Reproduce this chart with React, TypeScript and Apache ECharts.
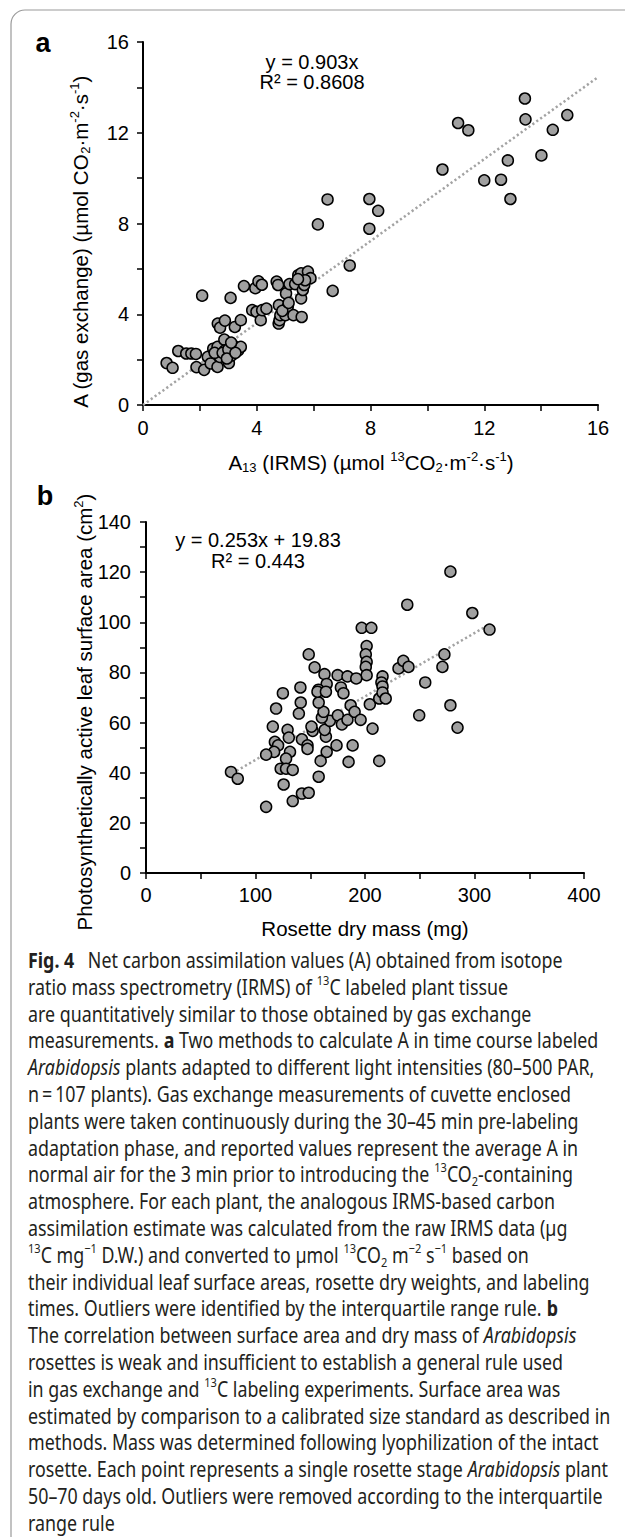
import React, { useEffect, useRef } from "react";
import * as echarts from "echarts";

// ---------- DATA ----------
// Panel a: A13 (IRMS) vs A (gas exchange)
const panelA: number[][] = [
  [0.83, 1.85], [1.04, 1.64], [1.24, 2.38], [1.52, 2.27], [1.7, 2.27], [1.86, 2.25],
  [1.88, 1.67], [2.15, 1.55], [2.08, 4.82], [2.28, 2.12], [2.38, 1.83], [2.47, 2.48],
  [2.62, 1.68], [2.62, 2.56], [2.7, 2.12], [2.86, 2.88], [2.88, 2.41], [3.02, 1.85],
  [3.12, 2.19], [3.17, 2.63], [3.35, 2.41], [3.44, 2.56], [2.63, 3.59], [2.71, 3.41],
  [2.88, 3.72], [3.08, 4.72], [3.23, 3.44], [3.44, 3.74], [3.55, 5.24], [3.84, 4.18],
  [3.95, 5.15], [4.06, 5.45], [4.18, 5.3], [3.99, 4.11], [4.14, 3.74], [4.19, 4.18],
  [4.34, 4.25], [4.7, 5.44], [4.75, 5.29], [4.78, 4.4], [4.77, 3.59], [4.8, 3.74],
  [4.83, 3.96], [5.01, 3.96], [5.03, 4.92], [5.09, 4.33], [5.15, 5.33], [5.29, 3.96],
  [5.35, 5.33], [5.46, 5.72], [5.56, 5.8], [5.58, 3.88], [5.56, 4.7], [5.62, 5.07],
  [5.67, 5.29], [5.8, 5.88], [5.89, 5.59], [6.67, 5.03], [7.27, 6.15], [6.15, 7.96],
  [7.96, 7.77], [6.49, 9.06], [7.96, 9.08], [8.27, 8.56], [10.53, 10.38], [11.08, 12.43],
  [11.44, 12.11], [12.0, 9.9], [12.59, 9.93], [12.83, 10.78], [12.92, 9.08], [13.43, 13.51],
  [13.45, 12.59], [14.01, 11.0], [14.41, 12.13], [14.92, 12.78],
  [2.52, 2.3], [2.8, 2.3], [3.0, 2.45], [2.95, 2.05], [3.25, 2.3], [4.9, 4.15],
  [5.12, 4.5], [5.7, 5.5], [5.45, 5.55], [3.1, 2.75],
];
const trendA: number[][] = [[0, 0], [16, 14.45]];
const eqA = ["y = 0.903x", "R² = 0.8608"];

// Panel b: rosette dry mass vs leaf surface area
const panelB: number[][] = [
  [278, 120.2], [238.6, 107.0], [298, 103.7], [313.7, 97.1], [197, 97.8], [205.8, 97.8],
  [201.5, 90.5], [200.7, 87.2], [201.5, 84.2], [200.7, 82.2], [201.5, 78.9], [148.6, 87.2],
  [154, 82.0], [163, 79.3], [175, 78.9], [184, 78.4], [192, 77.6], [165, 75.4],
  [178, 74.0], [141, 74.0], [157.5, 73.1], [216, 78.4], [215, 76.0], [216, 74.4],
  [230.6, 81.6], [235, 84.6], [239.7, 82.2], [255, 76.0], [272.5, 87.2], [270.7, 82.2],
  [125, 71.7], [118.8, 65.6], [141.3, 68.0], [139.6, 63.6], [115.8, 58.4], [117.7, 52.3],
  [120.6, 50.9], [117, 48.3], [109.7, 47.2], [131.5, 48.3], [129.3, 57.1], [130.4, 54.0],
  [127.9, 45.6], [123, 41.6], [127.9, 41.6], [134, 41.1], [125.7, 35.3], [134, 28.7],
  [142.4, 31.7], [148.6, 32.0], [109.7, 26.4], [77.6, 40.3], [83.8, 37.6], [142.4, 53.3],
  [147.5, 50.9], [147.5, 49.5], [152.2, 56.7], [151.1, 58.4], [157.7, 38.4], [159.5, 44.7],
  [165, 48.3], [174, 50.9], [188.7, 50.9], [185, 44.3], [213, 44.7], [164.3, 54.4],
  [163.2, 57.1], [167.9, 60.7], [160.6, 62.0], [162.1, 64.3], [157.7, 68.0], [156.6, 72.3],
  [164.3, 72.3], [180.3, 71.7], [175.2, 62.9], [178.9, 59.3], [184, 61.1], [186.9, 66.9],
  [190.5, 64.3], [196, 61.1], [204.4, 67.3], [206.9, 57.6], [213, 69.6], [216, 72.0],
  [218.9, 69.6], [249.5, 62.9], [278, 66.9], [284.5, 58.0],
];
const trendB: number[][] = [[79, 39.8], [313, 99.0]];
const eqB = ["y = 0.253x + 19.83", "R² = 0.443"];

const captionLines = [
  "{b|Fig. 4}\u2002 Net carbon assimilation values (A) obtained from isotope",
  "ratio mass spectrometry (IRMS) of {sup|13}C labeled plant tissue",
  "are quantitatively similar to those obtained by gas exchange",
  "measurements. {b|a} Two methods to calculate A in time course labeled",
  "{i|Arabidopsis} plants adapted to different light intensities (80–500 PAR,",
  "n\u2009=\u2009107 plants). Gas exchange measurements of cuvette enclosed",
  "plants were taken continuously during the 30–45 min pre-labeling",
  "adaptation phase, and reported values represent the average A in",
  "normal air for the 3 min prior to introducing the {sup|13}CO{sub|2}-containing",
  "atmosphere. For each plant, the analogous IRMS-based carbon",
  "assimilation estimate was calculated from the raw IRMS data (µg",
  "{sup|13}C mg{sup|−1} D.W.) and converted to µmol {sup|13}CO{sub|2} m{sup|−2} s{sup|−1} based on",
  "their individual leaf surface areas, rosette dry weights, and labeling",
  "times. Outliers were identified by the interquartile range rule. {b|b}",
  "The correlation between surface area and dry mass of {i|Arabidopsis}",
  "rosettes is weak and insufficient to establish a general rule used",
  "in gas exchange and {sup|13}C labeling experiments. Surface area was",
  "estimated by comparison to a calibrated size standard as described in",
  "methods. Mass was determined following lyophilization of the intact",
  "rosette. Each point represents a single rosette stage {i|Arabidopsis} plant",
  "50–70 days old. Outliers were removed according to the interquartile",
  "range rule",
];

// ---------- STYLE ----------
const ARIAL = '"Liberation Sans", Arial, sans-serif';
const CAP_FONT = '"Noto Sans", "Open Sans", sans-serif';
const CAP_SIZE = 21;
const CAP_REF_LINE = "are quantitatively similar to those obtained by gas exchange";
const CAP_REF_WIDTH = 504;

function axisRich(size: number) {
  const sm = Math.round(size * 0.62);
  return {
    sup: { fontSize: sm, fontFamily: ARIAL, fill: "#000", verticalAlign: "top", lineHeight: 24 },
    sub: { fontSize: sm, fontFamily: ARIAL, fill: "#000", verticalAlign: "bottom", lineHeight: 24 },
  };
}

export default function App() {
  const ref = useRef<HTMLDivElement>(null);

  useEffect(() => {
    if (!ref.current) return;
    const chart = echarts.init(ref.current, undefined, { renderer: "svg" });

    // caption horizontal scale so the text width matches the reference
    let capScale = 0.85;
    try {
      const ctx = document.createElement("canvas").getContext("2d");
      if (ctx) {
        ctx.font = `${CAP_SIZE}px "Noto Sans"`;
        const w = ctx.measureText(CAP_REF_LINE).width;
        if (w > 0) capScale = CAP_REF_WIDTH / w;
      }
    } catch (e) {}

    const axisLine = { show: true, onZero: false, lineStyle: { color: "#000", width: 2 } };
    const axisTick = { show: true, inside: false, length: 6, lineStyle: { color: "#000", width: 1.5 } };
    const lbl = (step: number, margin: number) => ({
      color: "#000",
      fontSize: 20,
      fontFamily: ARIAL,
      margin,
      formatter: (v: number) => (Math.abs(v % step) < 1e-9 ? String(v) : ""),
    });

    const capRich = {
      b: { fontFamily: CAP_FONT, fontSize: CAP_SIZE, fontWeight: "bold", fill: "#231f20", lineHeight: 27 },
      i: { fontFamily: CAP_FONT, fontSize: CAP_SIZE, fontStyle: "italic", fill: "#231f20", lineHeight: 27 },
      sup: { fontFamily: CAP_FONT, fontSize: 13, fill: "#231f20", verticalAlign: "top", lineHeight: 27 },
      sub: { fontFamily: CAP_FONT, fontSize: 13, fill: "#231f20", verticalAlign: "bottom", lineHeight: 27 },
    };

    const captionGraphics = captionLines.map((t, i) => ({
      type: "text",
      x: 28,
      y: 960 + i * 26.8,
      scaleX: capScale,
      silent: true,
      style: {
        text: t,
        fontFamily: CAP_FONT,
        fontSize: CAP_SIZE,
        fill: "#231f20",
        lineHeight: 27,
        align: "left",
        verticalAlign: "middle",
        rich: capRich,
      },
    }));

    const txt = (x: number, y: number, text: string, extra: any = {}) => ({
      type: "text",
      x,
      y,
      silent: true,
      style: {
        text,
        fontFamily: ARIAL,
        fontSize: 20,
        fill: "#000",
        align: "center",
        verticalAlign: "middle",
        ...extra,
      },
    });

    const titleStyle = { fontSize: 20.5, lineHeight: 24, rich: axisRich(20.5) };

    chart.setOption({
      animation: false,
      backgroundColor: "#fff",
      grid: [
        { left: 143, top: 42, width: 455, height: 363, containLabel: false },
        { left: 146, top: 522, width: 438, height: 351, containLabel: false },
      ],
      xAxis: [
        { gridIndex: 0, type: "value", min: 0, max: 16, interval: 2, axisLine, axisTick, splitLine: { show: false }, axisLabel: lbl(4, 13) },
        { gridIndex: 1, type: "value", min: 0, max: 400, interval: 50, axisLine, axisTick, splitLine: { show: false }, axisLabel: lbl(100, 12) },
      ],
      yAxis: [
        { gridIndex: 0, type: "value", min: 0, max: 16, interval: 2, axisLine, axisTick, splitLine: { show: false }, axisLabel: lbl(4, 14) },
        { gridIndex: 1, type: "value", min: 0, max: 140, interval: 10, axisLine, axisTick, splitLine: { show: false }, axisLabel: lbl(20, 15) },
      ],
      series: [
        {
          type: "line", xAxisIndex: 0, yAxisIndex: 0, data: trendA, symbol: "none", silent: true, z: 1,
          lineStyle: { color: "#a3a3a3", width: 2.5, type: [2.2, 2.6] },
        },
        {
          type: "scatter", xAxisIndex: 0, yAxisIndex: 0, data: panelA, symbolSize: 11, z: 2, clip: false,
          itemStyle: { color: "#a0a0a0", borderColor: "#000", borderWidth: 1.5, opacity: 1 },
        },
        {
          type: "line", xAxisIndex: 1, yAxisIndex: 1, data: trendB, symbol: "none", silent: true, z: 1,
          lineStyle: { color: "#a3a3a3", width: 2.5, type: [2.2, 2.6] },
        },
        {
          type: "scatter", xAxisIndex: 1, yAxisIndex: 1, data: panelB, symbolSize: 11, z: 2, clip: false,
          itemStyle: { color: "#a0a0a0", borderColor: "#000", borderWidth: 1.5, opacity: 1 },
        },
      ],
      graphic: [
        {
          type: "rect", silent: true, z: -1,
          shape: { x: 11, y: 10, width: 900, height: 1800, r: 14 },
          style: { fill: "none", stroke: "#9a9a9a", lineWidth: 1.2 },
        },
        txt(43, 43, "a", { fontSize: 27, fontWeight: "bold" }),
        txt(45, 496, "b", { fontSize: 27, fontWeight: "bold" }),
        txt(312, 61.5, eqA[0]),
        txt(312, 81.5, eqA[1]),
        txt(258, 539.5, eqB[0]),
        txt(258, 560.5, eqB[1]),
        {
          ...txt(80, 242, "A (gas exchange) (µmol CO{sub|2}·m{sup|-2}·s{sup|-1})", titleStyle),
          rotation: Math.PI / 2,
        },
        txt(371, 462, "A{sub|13} (IRMS) (µmol {sup|13}CO{sub|2}·m{sup|-2}·s{sup|-1})", titleStyle),
        {
          ...txt(84, 712, "Photosynthetically active leaf surface area (cm{sup|2})", titleStyle),
          rotation: Math.PI / 2,
        },
        txt(365, 928, "Rosette dry mass (mg)", { fontSize: 20.5 }),
        ...captionGraphics,
      ],
    });

    return () => chart.dispose();
  }, []);

  return (
    <div
      ref={ref}
      style={{ position: "absolute", left: 0, top: 0, width: 625, height: 1537, background: "#fff" }}
    />
  );
}
